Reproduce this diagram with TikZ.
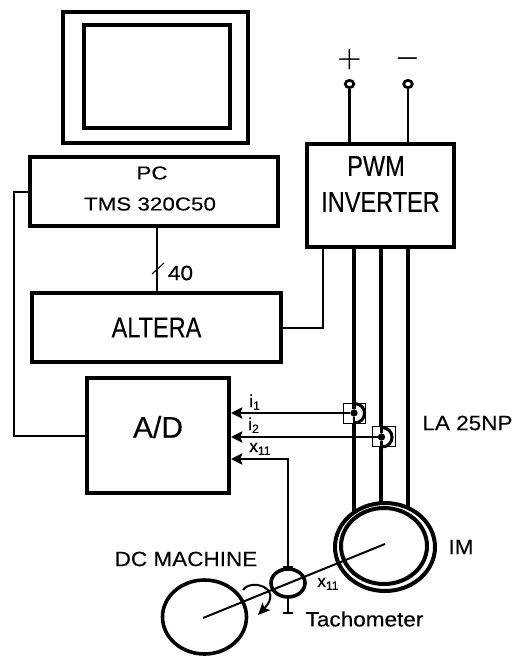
\documentclass[tikz,border=0pt]{standalone}
\usepackage{fontspec}
\setmainfont[FakeBold=0.25]{Liberation Sans}
\newfontfamily\midfont[FakeStretch=1.09,FakeBold=0.25]{Liberation Sans}
\newfontfamily\widefont[FakeStretch=1.2,FakeBold=0.25]{Liberation Sans}
\newfontfamily\narrowfont[FakeStretch=.82,FakeBold=0.25]{Liberation Sans}
\usetikzlibrary{arrows.meta,shapes.geometric}
\tikzset{
    box/.style={draw,line width=3pt,inner sep=0pt},
    monitor/.style={box,fill=white},
    wire/.style={line width=1.5pt},
    supply/.style={line width=2pt},
    phase/.style={line width=2.3pt},
    feed/.style={wire,-{Stealth[length=8.5pt,width=8.5pt,inset=1.5pt]}},
    sensorbox/.style={draw,line width=.7pt,fill=white,minimum width=17pt,minimum height=15.5pt,inner sep=0pt},
    sensordot/.style={circle,fill,minimum size=5.5pt,inner sep=0pt},
    terminal/.style={draw,ellipse,line width=2pt,minimum width=6.5pt,minimum height=5.5pt,inner sep=0pt},
    machine/.style={draw,ellipse,fill=white,inner sep=0pt},
    label/.style={font=\midfont\fontsize{15.5}{15.5}\selectfont,inner sep=0pt},
    widelabel/.style={font=\widefont\fontsize{14}{14}\selectfont,inner sep=0pt},
    biglabel/.style={font=\narrowfont\fontsize{21.5}{21.5}\selectfont,inner sep=0pt},
    smalllabel/.style={font=\fontsize{13}{13}\selectfont,inner sep=0pt,anchor=base west},
    polarity/.style={font=\fontsize{20}{20}\selectfont\boldmath,inner sep=0pt}
}
\begin{document}
\begin{tikzpicture}[x=0.75pt,y=-0.75pt]
    \useasboundingbox (0,0) rectangle (512,657);
    % Definitions:
    \coordinate (leftbus) at (14,300);
    \coordinate (topa) at (354,247);
    \coordinate (topb) at (381,247);
    \coordinate (topc) at (408,247);
    \coordinate (gate) at (323,247);
    \coordinate (shafta) at (385,544);
    \coordinate (shaftb) at (203,618);
    \coordinate (spina) at (243,590);
    \coordinate (spinb) at (258,615);
    \coordinate (tachbase) at (288,613);
    \coordinate (feedturn) at (288,459);
    % Blocks:
    \node[monitor,minimum width=138.75pt,minimum height=98.25pt] (screen) at (155.5,77.5) {};
    \node[monitor,minimum width=109.5pt,minimum height=77pt] (display) at (157,76.5) {};
    \node[box,minimum width=186pt,minimum height=51.75pt] (pc) at (154,191.5) {};
    \node[box,minimum width=186.75pt,minimum height=51.75pt,biglabel] (altera) at (156.5,327.5) {ALTERA};
    \node[box,minimum width=106.5pt,minimum height=86.25pt] (ad) at (158,435.5) {};
    \node[box,minimum width=110.25pt,minimum height=77.25pt] (pwm) at (380,195.5) {};
    \node[terminal] (plus) at (349.5,84) {};
    \node[terminal] (minus) at (408,84) {};
    % Drawing:
    \draw[wire] (altera.north) -- (altera.north |- pc.south);
    \draw[wire] (pc.west) -| (leftbus) |- (ad.west);
    \draw[wire] (altera.east) -| (gate);
    \draw[supply] (plus) -- (plus |- pwm.north);
    \draw[supply] (minus) -- (minus |- pwm.north);
    \foreach \n in {a,b,c}
        \draw[phase] (top\n) -- (top\n |- 0,547);
    \node[machine,line width=3pt,minimum width=75pt,minimum height=66pt] (imout) at (385,547) {};
    \node[machine,line width=3pt,minimum width=64.5pt,minimum height=57pt] (imin) at (384,546) {};
    \node[machine,line width=2.7pt,minimum width=63pt,minimum height=55.5pt] (dc) at (204.5,617) {};
    \draw[wire] (shafta) -- (shaftb);
    \node[draw,ellipse,line width=2.7pt,minimum width=25.5pt,minimum height=21pt,inner sep=0pt] (tach) at (288,583) {};
    \draw[line width=2pt] (tach.south) -- (tachbase);
    \draw[line width=2.2pt] (283,613) -- (293,613);
    \draw[line width=2.2pt] (283,567) -- (293,567);
    \draw[line width=1.5pt,-{Stealth[length=9pt,width=8pt,inset=2pt]}] (spina) .. controls (251,578) and (284,588) .. (spinb);
    % Sensors:
    \node[sensorbox] (sa) at (354.5,413.5) {};
    \node[sensorbox] (sb) at (384,436.5) {};
    \node[sensordot] (da) at (354,413) {};
    \node[sensordot] (db) at (381.5,437) {};
    \draw[phase] (da) -- (da |- sa.north);
    \draw[phase,line width=2pt] (da) -- (da |- 0,445);
    \draw[phase] (db) -- (db |- sb.north);
    \draw[phase] (db) -- (db |- sb.south);
    \draw[phase] (354,403.5) .. controls (368,403.5) and (368,423) .. (354,423);
    \draw[phase] (381.5,427.5) .. controls (395.5,427.5) and (395.5,447) .. (381.5,447);
    \draw[feed] (da) -- (da -| ad.east);
    \draw[feed] (db) -- (db -| ad.east);
    \draw[feed] (tach.north) -- (feedturn) -- (feedturn -| ad.east);
    % Tick:
    \coordinate (ticka) at (152,274);
    \coordinate (tickb) at (164,263);
    \draw[line width=.8pt] (ticka) -- (tickb);
    % Labels:
    \node[widelabel] (pcname) at (152,173) {PC};
    \node[widelabel] (pctype) at (150,204) {TMS 320C50};
    \node[biglabel] (pwmtop) at (376,166) {PWM};
    \node[biglabel] (pwmbot) at (380.5,202) {INVERTER};
    \node[font=\fontsize{22.5}{22.5}\selectfont,inner sep=0pt] (adname) at (158,427) {A/D};
    \node[label] (busw) at (180.5,273) {40};
    \node[label] (lem) at (467.5,423) {LA 25NP};
    \node[label] (dcname) at (186,559) {DC MACHINE};
    \node[label] (tachname) at (364.5,619) {Tachometer};
    \node[label] (imname) at (461,547) {IM};
    \node[polarity] (plussign) at (349.5,60) {$+$};
    \node[polarity] (minussign) at (407.5,59) {$-$};
    \node[smalllabel] (ione) at (249,407) {i\textsubscript{1}};
    \node[smalllabel] (itwo) at (248,430) {i\textsubscript{2}};
    \node[smalllabel] (xfeed) at (249,452) {x\textsubscript{11}};
    \node[smalllabel] (xtach) at (317,587) {x\textsubscript{11}};
\end{tikzpicture}
\end{document}
